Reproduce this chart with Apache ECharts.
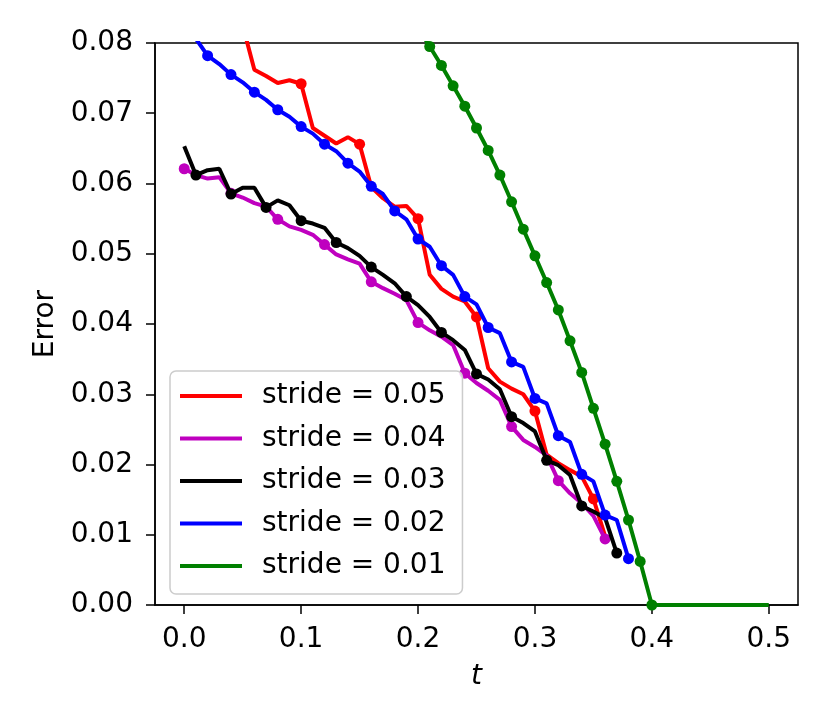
<html>
<head>
<meta charset="utf8">
<script src="https://cdn.jsdelivr.net/npm/echarts@6/dist/echarts.min.js" type="text/javascript"></script>
<title></title>
<style>
  body { margin: 0; background: #fff; }
</style>
</head>
<body>
<div id="echarts-main" style="height:727px;width:830px;"></div>
<script type="text/javascript">
	// sample grid step is 0.01; each series starts at its own t
	var seriesNames = ['stride = 0.05', 'stride = 0.04', 'stride = 0.03', 'stride = 0.02', 'stride = 0.01'];
	var seriesColors = ['#ff0000', '#bf00bf', '#000000', '#0000ff', '#008000'];
	var xTicks = [0.0, 0.1, 0.2, 0.3, 0.4, 0.5];

	// stride 0.05, t = 0.05 .. 0.36
	var redT0 = 0.05;
	var redErr = [0.0825, 0.0762, 0.0753, 0.0743, 0.0747, 0.0742, 0.0679, 0.0668, 0.0657, 0.0666,
		0.0656, 0.0595, 0.0579, 0.0567, 0.0568, 0.0550, 0.0470, 0.0450, 0.0439, 0.0432,
		0.0410, 0.0337, 0.0318, 0.0308, 0.0300, 0.0276, 0.0214, 0.0202, 0.0192, 0.0183,
		0.0151, 0.0098];
	// stride 0.04, t = 0.00 .. 0.36
	var magentaT0 = 0.0;
	var magentaErr = [0.0621, 0.0612, 0.0607, 0.0609, 0.0586, 0.0580, 0.0572, 0.0567, 0.0549, 0.0539,
		0.0534, 0.0527, 0.0513, 0.0499, 0.0492, 0.0486, 0.0460, 0.0451, 0.0443, 0.0434,
		0.0402, 0.0391, 0.0382, 0.0370, 0.0330, 0.0316, 0.0305, 0.0292, 0.0254, 0.0235,
		0.0225, 0.0213, 0.0177, 0.0159, 0.0145, 0.0127, 0.0094];
	// stride 0.03, t = 0.00 .. 0.37
	var blackT0 = 0.0;
	var blackErr = [0.0653, 0.0612, 0.0619, 0.0621, 0.0585, 0.0594, 0.0594, 0.0566, 0.0576, 0.0569,
		0.0547, 0.0543, 0.0537, 0.0516, 0.0508, 0.0497, 0.0481, 0.0470, 0.0458, 0.0439,
		0.0427, 0.0410, 0.0388, 0.0377, 0.0363, 0.0329, 0.0321, 0.0307, 0.0268, 0.0259,
		0.0247, 0.0206, 0.0199, 0.0185, 0.0141, 0.0133, 0.0124, 0.0074];
	// stride 0.02, t = 0.00 .. 0.38
	var blueT0 = 0.0;
	var blueErr = [0.0835, 0.0806, 0.0782, 0.0770, 0.0755, 0.0744, 0.0730, 0.0719, 0.0705, 0.0695,
		0.0681, 0.0671, 0.0656, 0.0646, 0.0629, 0.0617, 0.0596, 0.0585, 0.0561, 0.0549,
		0.0521, 0.0510, 0.0483, 0.0470, 0.0439, 0.0428, 0.0395, 0.0387, 0.0346, 0.0339,
		0.0294, 0.0287, 0.0241, 0.0232, 0.0186, 0.0176, 0.0128, 0.0121, 0.0066];
	// stride 0.01
	var greenT = [0.20, 0.21, 0.22, 0.23, 0.24, 0.25, 0.26, 0.27, 0.28, 0.29, 0.30,
		0.31, 0.32, 0.33, 0.34, 0.35, 0.36, 0.37, 0.38, 0.39, 0.40, 0.50];
	var greenErr = [0.0822, 0.0795, 0.0768, 0.0739, 0.0710, 0.0679, 0.0647, 0.0612, 0.0574, 0.0535, 0.0497,
		0.0459, 0.0420, 0.0376, 0.0331, 0.0280, 0.0229, 0.0176, 0.0121, 0.0062, 0.0, 0.0];

	function onStride(t, stride, offset) {
		var k = (t - offset) / stride;
		return Math.abs(k - Math.round(k)) < 1e-6;
	}

	function buildData(ts, errs, stride, offset, lastT) {
		var out = [];
		for (var i = 0; i < errs.length; i++) {
			var t = ts[i];
			var mark = onStride(t, stride, offset) && t <= lastT + 1e-9;
			out.push({ value: [t, errs[i]], symbol: mark ? 'circle' : 'none' });
		}
		return out;
	}

	function gridT(t0, n) {
		var ts = [];
		for (var i = 0; i < n; i++) ts.push(Math.round((t0 + i * 0.01) * 100) / 100);
		return ts;
	}

	function drawGraph() {
		var myChart = echarts.init(document.getElementById("echarts-main"));
		var allData = [
			buildData(gridT(redT0, redErr.length), redErr, 0.05, 0, 1),
			buildData(gridT(magentaT0, magentaErr.length), magentaErr, 0.04, 0, 1),
			buildData(gridT(blackT0, blackErr.length), blackErr, 0.03, 0.01, 1),
			buildData(gridT(blueT0, blueErr.length), blueErr, 0.02, 0, 1),
			buildData(greenT, greenErr, 0.01, 0, 0.40)
		];
		var series = [];
		for (var i = 0; i < allData.length; i++) {
			series.push({
				name: seriesNames[i],
				type: 'line',
				data: allData[i],
				color: seriesColors[i],
				lineStyle: { width: 4, color: seriesColors[i] },
				itemStyle: { color: seriesColors[i] },
				symbolSize: 11,
				showAllSymbol: true,
				clip: true,
				z: 2 + i
			});
		}
		var labelFont = { fontFamily: 'DejaVu Sans', fontSize: 28, color: '#000' };
		var option = {
			animation: false,
			textStyle: { fontFamily: 'DejaVu Sans' },
			grid: { left: 155, right: 32, top: 43, bottom: 122, show: true, borderColor: '#000', borderWidth: 1.5, backgroundColor: 'transparent' },
			legend: {
				orient: 'vertical',
				left: 170,
				top: 371,
				padding: [10, 17, 13, 10],
				itemGap: 12.5,
				itemWidth: 62,
				itemHeight: 4,
				icon: 'rect',
				data: seriesNames,
				textStyle: { fontFamily: 'DejaVu Sans', fontSize: 28, color: '#000', lineHeight: 30, padding: [0, 0, 0, 15] },
				backgroundColor: 'rgba(255,255,255,0.8)',
				borderColor: '#cccccc',
				borderWidth: 1.5,
				borderRadius: 6
			},
			xAxis: {
				type: 'value',
				min: -0.025,
				max: 0.525,
				name: 't',
				nameLocation: 'middle',
				nameGap: 58,
				nameTextStyle: { fontFamily: 'DejaVu Sans', fontSize: 28, fontStyle: 'italic', color: '#000' },
				axisLine: { show: true, onZero: false, lineStyle: { color: '#000', width: 1.5 } },
				axisTick: { show: true, length: 9, customValues: xTicks, lineStyle: { color: '#000', width: 1.5 } },
				axisLabel: Object.assign({ margin: 21, customValues: xTicks, formatter: function (v) { return v.toFixed(1); } }, labelFont),
				splitLine: { show: false }
			},
			yAxis: {
				type: 'value',
				min: 0,
				max: 0.08,
				interval: 0.01,
				name: 'Error',
				nameLocation: 'middle',
				nameGap: 95,
				nameTextStyle: { fontFamily: 'DejaVu Sans', fontSize: 28, color: '#000' },
				axisLine: { show: true, onZero: false, lineStyle: { color: '#000', width: 1.5 } },
				axisTick: { show: true, length: 9, lineStyle: { color: '#000', width: 1.5 } },
				axisLabel: Object.assign({ margin: 22, formatter: function (v) { return v.toFixed(2); } }, labelFont),
				splitLine: { show: false }
			},
			series: series
		};
		myChart.setOption(option);
	}

	drawGraph();
</script>
</body>
</html>
